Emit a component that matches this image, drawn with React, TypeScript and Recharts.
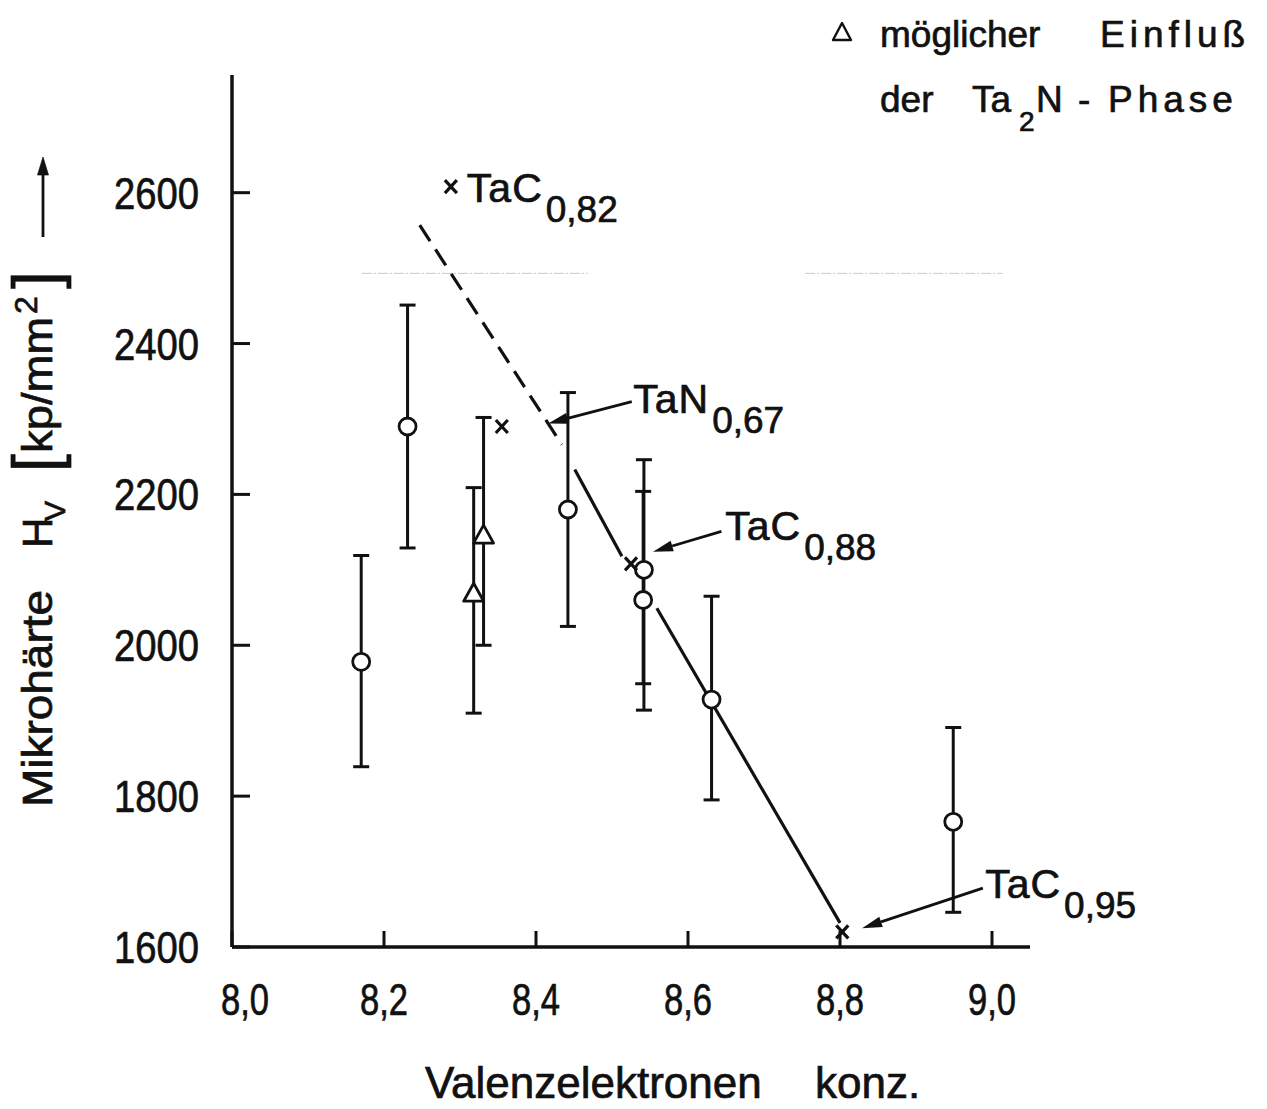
import React from 'react';
import { ScatterChart, Scatter, XAxis, YAxis, ErrorBar, ReferenceLine } from 'recharts';

const FONT = "'Liberation Sans', Arial, sans-serif";
const INK = '#111';

// axis ticks
const xTicks = [8.0, 8.2, 8.4, 8.6, 8.8, 9.0];
const yTicks = [1600, 1800, 2000, 2200, 2400, 2600];

// open circles with error bars
const circleX = [8.17, 8.231, 8.442, 8.542, 8.541, 8.631, 8.949];
const circleY = [1978, 2290, 2180, 2100, 2060, 1928, 1766];
const circleLow = [1839, 2129, 2025, 1914, 1949, 1795, 1646];
const circleHigh = [2119, 2451, 2335, 2246, 2204, 2065, 1891];

// triangles (möglicher Einfluß der Ta2N-Phase)
const triX = [8.318, 8.331];
const triY = [2069, 2146];
const triLow = [1910, 2000];
const triHigh = [2209, 2302];

// crosses
const crossX = [8.288, 8.355, 8.525, 8.803];
const crossY = [2608, 2290, 2108, 1620];

// trend line pieces
const dashedX = [8.247, 8.434];
const dashedY = [2557, 2266];
const solidAX = [8.451, 8.513];
const solidAY = [2233, 2118];
const solidBX = [8.559, 8.8];
const solidBY = [2049, 1632];

// faint scan line
const faintY = 2493;
const faintSegs = [[8.171, 8.468], [8.754, 9.014]];

// annotation labels: text start / baseline in data units
const labelMain = ['TaC', 'TaN', 'TaC', 'TaC'];
const labelSub = ['0,82', '0,67', '0,88', '0,95'];
const labelX = [8.309, 8.528, 8.649, 8.991];
const labelY = [2588, 2308, 2140, 1665];

// arrows from labels to points
const arrowFrom = [[8.526, 2323], [8.644, 2151], [8.988, 1678]];
const arrowTo = [[8.416, 2294], [8.554, 2124], [8.829, 1625]];

const withErr = (xs: number[], ys: number[], lo: number[], hi: number[]) =>
  xs.map((x, i) => ({ x, y: ys[i], err: [ys[i] - lo[i], hi[i] - ys[i]] }));

const circles = withErr(circleX, circleY, circleLow, circleHigh);
const triangles = withErr(triX, triY, triLow, triHigh);
const crosses = crossX.map((x, i) => ({ x, y: crossY[i] }));
const toPts = (xs: number[], ys: number[]) => xs.map((x, i) => ({ x, y: ys[i] }));
const labels = labelX.map((x, i) => ({ x, y: labelY[i], main: labelMain[i], sub: labelSub[i] }));

// slight outline makes the text look like the heavier stencil lettering
const heavy = { stroke: INK, strokeWidth: 0.7 };

const Circle = (p: any) => (
  <circle cx={p.cx} cy={p.cy} r={8.5} fill="#fff" stroke={INK} strokeWidth={2.8} />
);

const Triangle = (p: any) => (
  <polygon
    points={`${p.cx},${p.cy - 10} ${p.cx + 10},${p.cy + 8} ${p.cx - 10},${p.cy + 8}`}
    fill="#fff"
    stroke={INK}
    strokeWidth={2.8}
    strokeLinejoin="round"
  />
);

const Cross = (p: any) => (
  <g stroke={INK} strokeWidth={3.2}>
    <line x1={p.cx - 6} y1={p.cy - 6.5} x2={p.cx + 6} y2={p.cy + 6.5} />
    <line x1={p.cx - 6} y1={p.cy + 6.5} x2={p.cx + 6} y2={p.cy - 6.5} />
  </g>
);

const NoDot = () => <g />;

const Label = (p: any) => (
  <text x={p.cx} y={p.cy} fontFamily={FONT} fontSize={41} fill={INK} letterSpacing={1} {...heavy}>
    {p.payload.main}
    <tspan dx={3} dy={20} fontSize={37} letterSpacing={0}>{p.payload.sub}</tspan>
  </text>
);

const Arrow = (p: any) => {
  const { x1, y1, x2, y2 } = p;
  const dx = x2 - x1;
  const dy = y2 - y1;
  const len = Math.sqrt(dx * dx + dy * dy);
  const ux = dx / len;
  const uy = dy / len;
  const hl = 20;
  const hw = 5.5;
  const bx = x2 - ux * hl;
  const by = y2 - uy * hl;
  return (
    <g>
      <line x1={x1} y1={y1} x2={bx} y2={by} stroke={INK} strokeWidth={2.8} />
      <polygon
        points={`${x2},${y2} ${bx - uy * hw},${by + ux * hw} ${bx + uy * hw},${by - ux * hw}`}
        fill={INK}
      />
    </g>
  );
};

const YTick = (p: any) => {
  const y = p.payload.coordinate;
  return (
    <g>
      <line x1={232} y1={y} x2={250} y2={y} stroke={INK} strokeWidth={3} />
      <text x={114} y={y + 16} fontFamily={FONT} fontSize={44} fill={INK} textLength={85} lengthAdjust="spacingAndGlyphs" {...heavy}>
        {p.payload.value}
      </text>
    </g>
  );
};

const XTick = (p: any) => {
  const x = p.payload.coordinate;
  const shift = p.payload.value === 8 ? 13 : 0;
  return (
    <g>
      <line x1={x} y1={947} x2={x} y2={931} stroke={INK} strokeWidth={3} />
      <text x={x + shift - 24} y={1015} fontFamily={FONT} fontSize={44} fill={INK} textLength={48} lengthAdjust="spacingAndGlyphs" {...heavy}>
        {p.payload.value.toFixed(1).replace('.', ',')}
      </text>
    </g>
  );
};

const App = () => {
  return (
    <div style={{ position: 'absolute', left: 0, top: 0, width: 1267, height: 1109, background: '#fff' }}>
      <ScatterChart width={1267} height={1109} margin={{ top: 75, right: 237, bottom: 102, left: 132 }}>
        <XAxis
          type="number"
          dataKey="x"
          domain={[8.0, 9.05]}
          ticks={xTicks}
          height={60}
          tickSize={0}
          tickMargin={0}
          tickLine={false}
          axisLine={{ stroke: INK, strokeWidth: 3.5 }}
          tick={<XTick />}
        />
        <YAxis
          type="number"
          dataKey="y"
          domain={[1600, 2756]}
          ticks={yTicks}
          width={100}
          tickSize={0}
          tickMargin={0}
          tickLine={false}
          axisLine={{ stroke: INK, strokeWidth: 3.5 }}
          tick={<YTick />}
        />
        {faintSegs.map((s, i) => (
          <ReferenceLine
            key={`faint-${i}`}
            segment={[{ x: s[0], y: faintY }, { x: s[1], y: faintY }]}
            stroke="#c8c8c8"
            strokeWidth={1}
            strokeDasharray="10 2 2 2"
            ifOverflow="visible"
          />
        ))}
        <Scatter
          data={toPts(dashedX, dashedY)}
          line={{ stroke: INK, strokeWidth: 3.2, strokeDasharray: '19 10' }}
          shape={NoDot}
          isAnimationActive={false}
        />
        <Scatter data={toPts(solidAX, solidAY)} line={{ stroke: INK, strokeWidth: 3.2 }} shape={NoDot} isAnimationActive={false} />
        <Scatter data={toPts(solidBX, solidBY)} line={{ stroke: INK, strokeWidth: 3.2 }} shape={NoDot} isAnimationActive={false} />
        <Scatter data={triangles} shape={Triangle} isAnimationActive={false}>
          <ErrorBar dataKey="err" direction="y" width={8} stroke={INK} strokeWidth={3} isAnimationActive={false} />
        </Scatter>
        <Scatter data={circles} shape={Circle} isAnimationActive={false}>
          <ErrorBar dataKey="err" direction="y" width={8} stroke={INK} strokeWidth={3} isAnimationActive={false} />
        </Scatter>
        <Scatter data={crosses} shape={Cross} isAnimationActive={false} />
        <Scatter data={labels} shape={Label} isAnimationActive={false} />
        {arrowFrom.map((f, i) => (
          <ReferenceLine
            key={`arrow-${i}`}
            segment={[{ x: f[0], y: f[1] }, { x: arrowTo[i][0], y: arrowTo[i][1] }]}
            shape={Arrow}
            ifOverflow="visible"
          />
        ))}
      </ScatterChart>
      <svg
        width={1267}
        height={1109}
        style={{ position: 'absolute', left: 0, top: 0, pointerEvents: 'none' }}
        fontFamily={FONT}
        fill={INK}
        stroke={INK}
        strokeWidth={0.7}
      >
        {/* legend */}
        <polygon points="842,23 851,40 833,40" fill="none" stroke={INK} strokeWidth={2.4} strokeLinejoin="round" />
        <text x={880} y={47} fontSize={37}>möglicher</text>
        <text x={1100} y={47} fontSize={37} letterSpacing={5}>Einfluß</text>
        <text x={880} y={112} fontSize={37}>der</text>
        <text x={972} y={112} fontSize={37}>Ta</text>
        <text x={1019} y={131} fontSize={28}>2</text>
        <text x={1036} y={112} fontSize={37}>N</text>
        <text x={1078} y={112} fontSize={37}>-</text>
        <text x={1108} y={112} fontSize={37} letterSpacing={5}>Phase</text>
        {/* x axis title */}
        <text x={425} y={1098} fontSize={44}>Valenzelektronen</text>
        <text x={815} y={1098} fontSize={44}>konz.</text>
        {/* y axis title */}
        <g transform="translate(52,807) rotate(-90)">
          <text x={0} y={0} fontSize={42} textLength={217} lengthAdjust="spacingAndGlyphs">Mikrohärte</text>
          <text x={259} y={0} fontSize={42}>H</text>
          <text x={286} y={13} fontSize={30}>V</text>
          <text x={335} y={6} fontSize={64}>[</text>
          <text x={354} y={0} fontSize={42} textLength={136} lengthAdjust="spacingAndGlyphs">kp/mm</text>
          <text x={493} y={-15} fontSize={32}>2</text>
          <text x={518} y={6} fontSize={64}>]</text>
          <line x1={570} y1={-9} x2={636} y2={-9} stroke={INK} strokeWidth={2.8} />
          <polygon points="650,-9 632,-14.5 632,-3.5" fill={INK} />
        </g>
      </svg>
    </div>
  );
};

export default App;
